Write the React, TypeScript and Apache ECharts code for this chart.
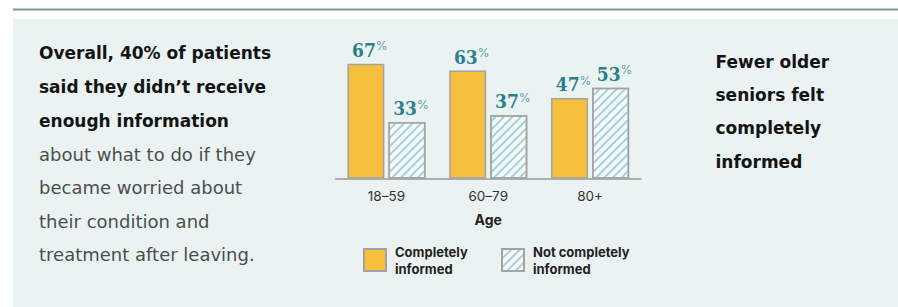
import React, { useEffect, useRef } from "react";
import * as echarts from "echarts";

const categories = ["18–59", "60–79", "80+"];
const completelyInformed = [67, 63, 47];
const notCompletelyInformed = [33, 37, 53];
const seriesNames = ["Completely\ninformed", "Not completely\ninformed"];
const axisName = "Age";
const leftBold = ["Overall, 40% of patients", "said they didn’t receive", "enough information"];
const leftNormal = ["about what to do if they", "became worried about", "their condition and", "treatment after leaving."];
const rightBold = ["Fewer older", "seniors felt", "completely", "informed"];

const YELLOW = "#f6bf3c";
const STRIPE = "#a7d0d8";
const STRIPE_BG = "#f6fafa";
const TEAL = "#2b7e8c";
const BORDER = "#a3a3a3";
const FONT = "'DejaVu Sans', sans-serif";
const FONT2 = "Inter, sans-serif";

export default function App() {
  const ref = useRef<HTMLDivElement>(null);
  useEffect(() => {
    document.body.style.margin = "0";
    const chart = echarts.init(ref.current!, null, { renderer: "svg" });
    const label = {
      show: true,
      position: "top",
      distance: 4,
      offset: [4, 0],
      formatter: "{v|{c}}{p|%}",
      rich: {
        v: { fontSize: 19, fontWeight: "bold", color: TEAL, fontFamily: "'DejaVu Serif Condensed', 'DejaVu Serif', serif", lineHeight: 20 },
        p: { fontSize: 12, color: "#5aa0ab", fontFamily: FONT2, verticalAlign: "top", lineHeight: 20, padding: [0, 0, 8, 0] },
      },
    };
    const legendText = { fontSize: 13, fontWeight: "bold", color: "#222", fontFamily: FONT2, lineHeight: 17, padding: [0, 0, 0, 4] };
    chart.setOption({
      animation: false,
      backgroundColor: "#ffffff",
      graphic: [
        { type: "rect", shape: { x: 13, y: 8.5, width: 885, height: 2 }, style: { fill: "#7a999e" } },
        { type: "rect", shape: { x: 13, y: 19, width: 885, height: 288 }, style: { fill: "#eaf3f2" }, z: -10 },
        {
          type: "text", x: 39, y: 36.5,
          style: { text: leftBold.join("\n"), font: `bold 17px ${FONT}`, fill: "#141414", lineHeight: 33.6, verticalAlign: "top" },
        },
        {
          type: "text", x: 39, y: 36.5 + 3 * 33.6,
          style: { text: leftNormal.join("\n"), font: `18px ${FONT}`, fill: "#4d4d4d", lineHeight: 33.6, verticalAlign: "top" },
        },
        {
          type: "text", x: 715.5, y: 45,
          style: { text: rightBold.join("\n"), font: `bold 17px ${FONT}`, fill: "#141414", lineHeight: 33.3, verticalAlign: "top" },
        },
      ],
      grid: { left: 335.5, width: 305.5, top: 7.1, height: 171.6 },
      xAxis: {
        type: "category",
        data: categories,
        name: axisName,
        nameLocation: "middle",
        nameGap: 34,
        nameTextStyle: { fontSize: 14, fontWeight: "bold", color: "#222", fontFamily: FONT2 },
        axisLine: { lineStyle: { color: "#9a9a9a", width: 1.5 } },
        axisTick: { show: false },
        axisLabel: { fontSize: 13.5, color: "#333", fontFamily: FONT2, margin: 10 },
      },
      yAxis: { type: "value", min: 0, max: 100, show: false, splitLine: { show: false } },
      legend: [
        { data: [seriesNames[0]], left: 358, top: 238, itemWidth: 22, itemHeight: 22, icon: "rect", textStyle: legendText },
        { data: [seriesNames[1]], left: 496, top: 238, itemWidth: 22, itemHeight: 22, icon: "rect", textStyle: legendText },
      ],
      series: [
        {
          type: "bar", name: seriesNames[0], data: completelyInformed, barWidth: 37, barGap: "11%",
          itemStyle: { color: YELLOW, borderColor: BORDER, borderWidth: 1.5 },
          label,
        },
        {
          type: "bar", name: seriesNames[1], data: notCompletelyInformed, barWidth: 37,
          itemStyle: {
            color: STRIPE_BG, borderColor: BORDER, borderWidth: 1.5,
            decal: { symbol: "rect", symbolSize: 1, color: STRIPE, dashArrayX: [1, 0], dashArrayY: [2, 4], rotation: -Math.PI / 4 },
          },
          label,
        },
      ],
    });
    return () => chart.dispose();
  }, []);
  return <div ref={ref} style={{ position: "absolute", left: 0, top: 0, width: 898, height: 307 }} />;
}
